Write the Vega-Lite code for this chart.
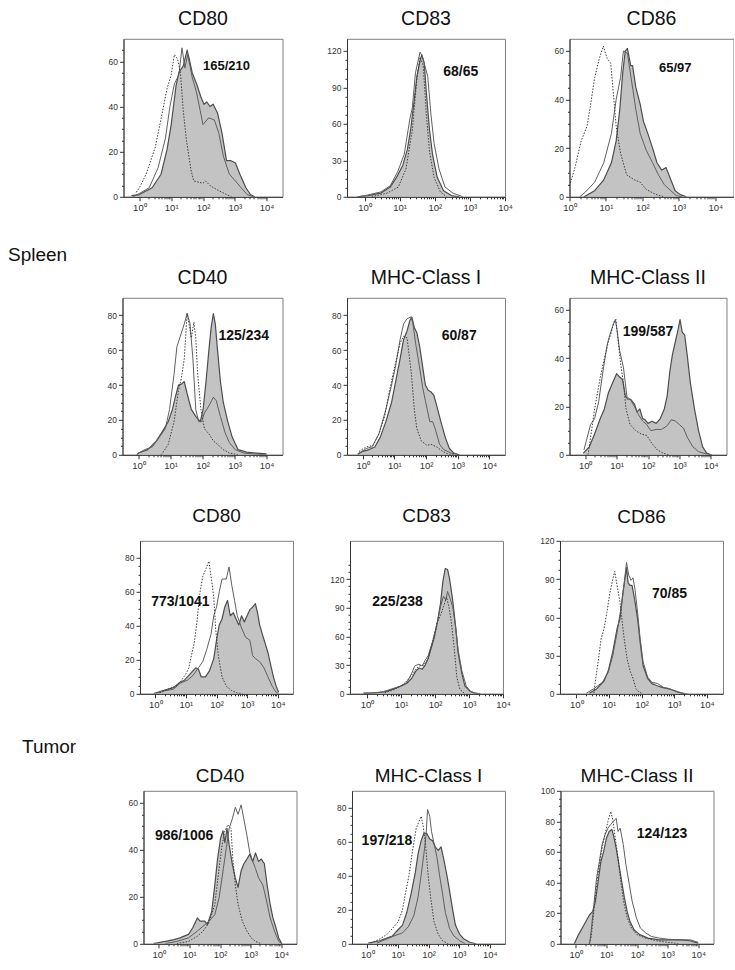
{
"$schema": "https://vega.github.io/schema/vega-lite/v6.json",
"padding": {"left": 8, "top": 7.8, "right": 0, "bottom": 0},
"background": "white",
"spacing": 0,
"datasets": {
"a_f": [{"e":-0.25,"y":0.5},{"e":0,"y":1},{"e":0.4,"y":4},{"e":0.68,"y":10},{"e":0.87,"y":21},{"e":1.0,"y":32},{"e":1.15,"y":49},{"e":1.24,"y":55},{"e":1.38,"y":58},{"e":1.5,"y":65},{"e":1.57,"y":61},{"e":1.66,"y":55},{"e":1.8,"y":50},{"e":1.94,"y":44},{"e":2.03,"y":41},{"e":2.12,"y":42},{"e":2.22,"y":40},{"e":2.32,"y":41},{"e":2.46,"y":37},{"e":2.6,"y":28},{"e":2.74,"y":16},{"e":2.88,"y":16},{"e":3.02,"y":15},{"e":3.16,"y":10},{"e":3.35,"y":4},{"e":3.49,"y":1},{"e":3.63,"y":0}],
"a_o": [{"e":-0.2,"y":0},{"e":0,"y":1.5},{"e":0.31,"y":4},{"e":0.59,"y":13},{"e":0.82,"y":26},{"e":0.96,"y":40},{"e":1.1,"y":50},{"e":1.24,"y":54},{"e":1.34,"y":66},{"e":1.43,"y":57},{"e":1.52,"y":63},{"e":1.66,"y":53},{"e":1.8,"y":46},{"e":2.0,"y":32},{"e":2.18,"y":35},{"e":2.36,"y":34},{"e":2.5,"y":28},{"e":2.64,"y":18},{"e":2.83,"y":10},{"e":3.02,"y":7},{"e":3.2,"y":4},{"e":3.39,"y":1},{"e":3.57,"y":0}],
"a_i": [{"e":-0.1,"y":2},{"e":0,"y":4},{"e":0.21,"y":10},{"e":0.5,"y":22},{"e":0.73,"y":38},{"e":0.87,"y":48},{"e":1.0,"y":54},{"e":1.1,"y":63},{"e":1.2,"y":61},{"e":1.29,"y":55},{"e":1.38,"y":38},{"e":1.48,"y":25},{"e":1.62,"y":12},{"e":1.71,"y":7},{"e":2.0,"y":6},{"e":2.08,"y":7},{"e":2.22,"y":5},{"e":2.46,"y":3},{"e":2.74,"y":1},{"e":2.9,"y":0}],
"b_f": [{"e":-0.2,"y":0},{"e":0.1,"y":1},{"e":0.46,"y":3},{"e":0.73,"y":8},{"e":0.91,"y":16},{"e":1.09,"y":26},{"e":1.22,"y":39},{"e":1.31,"y":55},{"e":1.4,"y":76},{"e":1.49,"y":99},{"e":1.58,"y":112},{"e":1.63,"y":117},{"e":1.7,"y":110},{"e":1.76,"y":86},{"e":1.85,"y":55},{"e":1.94,"y":34},{"e":2.07,"y":16},{"e":2.25,"y":5},{"e":2.47,"y":1},{"e":2.7,"y":0}],
"b_o": [{"e":-0.2,"y":0},{"e":0.02,"y":1},{"e":0.46,"y":4},{"e":0.73,"y":9},{"e":0.95,"y":21},{"e":1.13,"y":35},{"e":1.29,"y":64},{"e":1.36,"y":73},{"e":1.45,"y":102},{"e":1.58,"y":119},{"e":1.65,"y":115},{"e":1.8,"y":99},{"e":1.89,"y":68},{"e":1.98,"y":44},{"e":2.12,"y":23},{"e":2.29,"y":8},{"e":2.52,"y":3},{"e":2.8,"y":0}],
"b_i": [{"e":0.2,"y":0},{"e":0.64,"y":3},{"e":0.96,"y":8},{"e":1.18,"y":23},{"e":1.36,"y":55},{"e":1.49,"y":97},{"e":1.58,"y":115},{"e":1.67,"y":108},{"e":1.76,"y":68},{"e":1.85,"y":37},{"e":1.98,"y":16},{"e":2.16,"y":4},{"e":2.34,"y":0}],
"c_f": [{"e":0.4,"y":0},{"e":0.69,"y":2.5},{"e":0.94,"y":7},{"e":1.15,"y":14},{"e":1.28,"y":23},{"e":1.38,"y":36},{"e":1.46,"y":51},{"e":1.53,"y":60},{"e":1.59,"y":61},{"e":1.68,"y":54},{"e":1.73,"y":54},{"e":1.82,"y":45},{"e":1.94,"y":38},{"e":2.03,"y":31},{"e":2.15,"y":26},{"e":2.28,"y":20},{"e":2.4,"y":14},{"e":2.53,"y":11},{"e":2.65,"y":12},{"e":2.78,"y":7},{"e":2.9,"y":2.5},{"e":3.03,"y":1},{"e":3.2,"y":0}],
"c_o": [{"e":0.28,"y":0},{"e":0.44,"y":2},{"e":0.69,"y":6},{"e":0.94,"y":14},{"e":1.15,"y":26},{"e":1.28,"y":40},{"e":1.4,"y":49},{"e":1.48,"y":60},{"e":1.59,"y":59},{"e":1.69,"y":49},{"e":1.82,"y":36},{"e":1.94,"y":26},{"e":2.11,"y":19},{"e":2.28,"y":14},{"e":2.44,"y":9},{"e":2.6,"y":5},{"e":2.78,"y":2.5},{"e":2.94,"y":0.4},{"e":3.1,"y":0}],
"c_i": [{"e":0,"y":4.5},{"e":0.15,"y":12},{"e":0.32,"y":23},{"e":0.48,"y":29},{"e":0.57,"y":37},{"e":0.69,"y":49},{"e":0.82,"y":57},{"e":0.93,"y":62},{"e":1.03,"y":57},{"e":1.13,"y":55},{"e":1.19,"y":45},{"e":1.28,"y":29},{"e":1.4,"y":18},{"e":1.57,"y":9},{"e":1.78,"y":7},{"e":1.94,"y":6},{"e":2.11,"y":3},{"e":2.36,"y":1},{"e":2.6,"y":0}],
"d_f": [{"e":-0.05,"y":0},{"e":0,"y":1},{"e":0.29,"y":3},{"e":0.56,"y":8},{"e":0.75,"y":13.5},{"e":0.93,"y":19},{"e":1.06,"y":26},{"e":1.15,"y":33},{"e":1.25,"y":40},{"e":1.34,"y":40.5},{"e":1.43,"y":42},{"e":1.52,"y":35},{"e":1.65,"y":26},{"e":1.79,"y":22},{"e":1.93,"y":19},{"e":2.02,"y":26},{"e":2.11,"y":42},{"e":2.2,"y":60},{"e":2.27,"y":73},{"e":2.34,"y":81},{"e":2.4,"y":75},{"e":2.47,"y":60},{"e":2.56,"y":42},{"e":2.65,"y":30},{"e":2.79,"y":19},{"e":2.93,"y":10},{"e":3.11,"y":3},{"e":3.38,"y":1.5},{"e":3.7,"y":1},{"e":4.0,"y":0.5}],
"d_o": [{"e":-0.05,"y":0},{"e":0,"y":1},{"e":0.2,"y":3},{"e":0.43,"y":4.5},{"e":0.65,"y":10},{"e":0.84,"y":15},{"e":0.97,"y":26},{"e":1.11,"y":46},{"e":1.2,"y":62},{"e":1.29,"y":67},{"e":1.43,"y":75},{"e":1.52,"y":81},{"e":1.61,"y":75},{"e":1.7,"y":55},{"e":1.79,"y":26},{"e":1.88,"y":19},{"e":1.97,"y":19},{"e":2.06,"y":24},{"e":2.2,"y":28},{"e":2.34,"y":33},{"e":2.43,"y":31},{"e":2.56,"y":22},{"e":2.7,"y":13},{"e":2.84,"y":7},{"e":3.02,"y":3},{"e":3.29,"y":1},{"e":3.65,"y":0.4},{"e":4.0,"y":0}],
"d_i": [{"e":0.7,"y":0},{"e":0.75,"y":1},{"e":0.93,"y":6},{"e":1.11,"y":19},{"e":1.25,"y":37},{"e":1.34,"y":44},{"e":1.43,"y":55},{"e":1.52,"y":81},{"e":1.58,"y":75},{"e":1.65,"y":67},{"e":1.73,"y":76},{"e":1.79,"y":67},{"e":1.85,"y":46},{"e":1.95,"y":26},{"e":2.06,"y":15},{"e":2.2,"y":12},{"e":2.34,"y":8},{"e":2.47,"y":6},{"e":2.65,"y":3},{"e":2.84,"y":1},{"e":3.11,"y":0}],
"e_f": [{"e":-0.16,"y":0.4},{"e":0,"y":2},{"e":0.2,"y":3},{"e":0.38,"y":4.5},{"e":0.55,"y":10},{"e":0.73,"y":19},{"e":0.91,"y":30},{"e":1.04,"y":42},{"e":1.18,"y":55},{"e":1.29,"y":66},{"e":1.4,"y":71},{"e":1.49,"y":77},{"e":1.55,"y":79},{"e":1.63,"y":73},{"e":1.71,"y":70},{"e":1.8,"y":62},{"e":1.89,"y":51},{"e":1.98,"y":40},{"e":2.07,"y":37},{"e":2.16,"y":36},{"e":2.25,"y":34},{"e":2.34,"y":28},{"e":2.47,"y":19},{"e":2.61,"y":10},{"e":2.74,"y":3.6},{"e":2.88,"y":1},{"e":3.05,"y":0}],
"e_o": [{"e":-0.16,"y":0.4},{"e":0.11,"y":3.6},{"e":0.29,"y":4.5},{"e":0.51,"y":12},{"e":0.73,"y":26},{"e":0.91,"y":40},{"e":1.04,"y":51},{"e":1.18,"y":66},{"e":1.29,"y":75},{"e":1.4,"y":78},{"e":1.52,"y":79},{"e":1.58,"y":76},{"e":1.67,"y":64},{"e":1.79,"y":51},{"e":1.89,"y":39},{"e":1.98,"y":31},{"e":2.12,"y":19},{"e":2.21,"y":19},{"e":2.29,"y":15},{"e":2.43,"y":6},{"e":2.56,"y":3},{"e":2.79,"y":1},{"e":3.05,"y":0}],
"e_i": [{"e":-0.12,"y":2},{"e":0.11,"y":4.5},{"e":0.33,"y":5.4},{"e":0.51,"y":12},{"e":0.69,"y":22},{"e":0.87,"y":39},{"e":1.04,"y":53},{"e":1.18,"y":64},{"e":1.29,"y":68},{"e":1.4,"y":67},{"e":1.46,"y":58},{"e":1.54,"y":46},{"e":1.63,"y":26},{"e":1.71,"y":15},{"e":1.85,"y":8},{"e":2.03,"y":5.4},{"e":2.16,"y":6},{"e":2.34,"y":4.5},{"e":2.52,"y":2},{"e":2.7,"y":0.4},{"e":2.88,"y":0}],
"f_f": [{"e":-0.06,"y":0.7},{"e":0.13,"y":3.3},{"e":0.3,"y":8.6},{"e":0.48,"y":15},{"e":0.61,"y":19},{"e":0.74,"y":25.7},{"e":0.87,"y":29.7},{"e":1.0,"y":33.6},{"e":1.09,"y":32.3},{"e":1.19,"y":31},{"e":1.28,"y":24.4},{"e":1.35,"y":23},{"e":1.45,"y":23},{"e":1.57,"y":21},{"e":1.65,"y":17.8},{"e":1.74,"y":19},{"e":1.83,"y":15},{"e":1.91,"y":14.5},{"e":2.0,"y":13},{"e":2.13,"y":13.9},{"e":2.26,"y":13},{"e":2.39,"y":15},{"e":2.52,"y":19},{"e":2.61,"y":24.4},{"e":2.7,"y":35},{"e":2.78,"y":41.6},{"e":2.87,"y":46.8},{"e":2.96,"y":52},{"e":3.02,"y":56},{"e":3.09,"y":50.8},{"e":3.17,"y":49.5},{"e":3.26,"y":40},{"e":3.35,"y":29.7},{"e":3.48,"y":19},{"e":3.61,"y":10},{"e":3.74,"y":3.3},{"e":3.87,"y":0.7},{"e":4.0,"y":0}],
"f_o": [{"e":-0.04,"y":2},{"e":0.04,"y":6},{"e":0.17,"y":12.5},{"e":0.3,"y":15},{"e":0.43,"y":22},{"e":0.57,"y":35},{"e":0.7,"y":45.5},{"e":0.78,"y":49.5},{"e":0.87,"y":53},{"e":0.96,"y":56},{"e":1.02,"y":51},{"e":1.1,"y":43},{"e":1.22,"y":36},{"e":1.33,"y":24},{"e":1.43,"y":23},{"e":1.57,"y":20},{"e":1.7,"y":16.5},{"e":1.83,"y":14},{"e":1.96,"y":12.5},{"e":2.09,"y":10},{"e":2.26,"y":10.5},{"e":2.43,"y":10.5},{"e":2.61,"y":12},{"e":2.74,"y":14.5},{"e":2.87,"y":14},{"e":3.0,"y":12.5},{"e":3.13,"y":11},{"e":3.26,"y":7},{"e":3.43,"y":3.3},{"e":3.61,"y":1.3},{"e":3.87,"y":0.3},{"e":4.04,"y":0}],
"f_i": [{"e":0.09,"y":0},{"e":0.17,"y":7},{"e":0.3,"y":19},{"e":0.48,"y":32},{"e":0.61,"y":40},{"e":0.74,"y":47},{"e":0.84,"y":51},{"e":0.91,"y":55},{"e":0.98,"y":56},{"e":1.04,"y":48},{"e":1.13,"y":37.6},{"e":1.22,"y":29.7},{"e":1.3,"y":19},{"e":1.43,"y":12.5},{"e":1.61,"y":10},{"e":1.78,"y":8.6},{"e":1.96,"y":8},{"e":2.13,"y":4.6},{"e":2.3,"y":2},{"e":2.48,"y":0.7},{"e":2.65,"y":0}],
"g_f": [{"e":-0.05,"y":0.2},{"e":0.23,"y":1.8},{"e":0.59,"y":3.6},{"e":0.77,"y":6.3},{"e":0.95,"y":8},{"e":1.14,"y":11.7},{"e":1.32,"y":15.3},{"e":1.41,"y":14.4},{"e":1.5,"y":10},{"e":1.64,"y":10},{"e":1.77,"y":13.5},{"e":1.91,"y":20.7},{"e":2.0,"y":31.5},{"e":2.09,"y":40.5},{"e":2.18,"y":44},{"e":2.27,"y":51},{"e":2.36,"y":54.9},{"e":2.45,"y":45.9},{"e":2.55,"y":47.7},{"e":2.64,"y":44},{"e":2.73,"y":40.5},{"e":2.82,"y":45.9},{"e":2.91,"y":42.3},{"e":3.0,"y":45.9},{"e":3.09,"y":49.5},{"e":3.18,"y":51},{"e":3.27,"y":53},{"e":3.34,"y":47.7},{"e":3.41,"y":40.5},{"e":3.5,"y":35},{"e":3.59,"y":29.7},{"e":3.68,"y":24.3},{"e":3.77,"y":17},{"e":3.86,"y":10},{"e":3.95,"y":4.5},{"e":4.03,"y":0.9}],
"g_o": [{"e":0.05,"y":0.4},{"e":0.32,"y":1.8},{"e":0.59,"y":2.7},{"e":0.82,"y":6.3},{"e":1.05,"y":8},{"e":1.23,"y":10.8},{"e":1.41,"y":15.3},{"e":1.55,"y":18.9},{"e":1.68,"y":26},{"e":1.82,"y":35},{"e":1.91,"y":45.9},{"e":2.0,"y":51},{"e":2.09,"y":60},{"e":2.18,"y":67.5},{"e":2.32,"y":67.5},{"e":2.41,"y":74.6},{"e":2.5,"y":63.8},{"e":2.59,"y":54.9},{"e":2.68,"y":45.9},{"e":2.82,"y":38.7},{"e":2.95,"y":33.3},{"e":3.09,"y":31.5},{"e":3.18,"y":22.5},{"e":3.27,"y":20.7},{"e":3.41,"y":18.9},{"e":3.55,"y":15.3},{"e":3.68,"y":10},{"e":3.82,"y":4.5},{"e":3.95,"y":0.9},{"e":4.03,"y":0}],
"g_i": [{"e":0.14,"y":0.5},{"e":0.41,"y":2.7},{"e":0.68,"y":4.5},{"e":0.86,"y":8},{"e":1.0,"y":11.7},{"e":1.09,"y":15},{"e":1.18,"y":22.5},{"e":1.27,"y":29.7},{"e":1.36,"y":42},{"e":1.45,"y":58.5},{"e":1.55,"y":69},{"e":1.66,"y":73.7},{"e":1.75,"y":78},{"e":1.85,"y":65.5},{"e":1.91,"y":56.7},{"e":1.97,"y":38.7},{"e":2.06,"y":22.5},{"e":2.18,"y":10},{"e":2.32,"y":4.5},{"e":2.5,"y":1.8},{"e":2.68,"y":0.5},{"e":2.86,"y":0}],
"h_f": [{"e":-0.1,"y":0.6},{"e":0.27,"y":1},{"e":0.63,"y":3},{"e":0.81,"y":5.4},{"e":0.99,"y":8},{"e":1.17,"y":11},{"e":1.31,"y":16},{"e":1.44,"y":24},{"e":1.53,"y":27},{"e":1.62,"y":25.6},{"e":1.71,"y":30},{"e":1.8,"y":37},{"e":1.89,"y":48},{"e":1.98,"y":59},{"e":2.07,"y":75},{"e":2.16,"y":94},{"e":2.23,"y":117},{"e":2.3,"y":131},{"e":2.37,"y":130},{"e":2.43,"y":120},{"e":2.52,"y":98},{"e":2.61,"y":69},{"e":2.68,"y":43},{"e":2.79,"y":21},{"e":2.88,"y":8},{"e":3.02,"y":3},{"e":3.15,"y":1},{"e":3.33,"y":0}],
"h_o": [{"e":-0.1,"y":0.6},{"e":0.43,"y":1.6},{"e":0.7,"y":4.8},{"e":0.99,"y":8},{"e":1.17,"y":12},{"e":1.31,"y":21},{"e":1.4,"y":29},{"e":1.53,"y":31},{"e":1.62,"y":29},{"e":1.71,"y":35},{"e":1.8,"y":40},{"e":1.94,"y":56},{"e":2.07,"y":75},{"e":2.16,"y":91},{"e":2.25,"y":102},{"e":2.32,"y":98},{"e":2.37,"y":107},{"e":2.43,"y":101},{"e":2.52,"y":91},{"e":2.61,"y":69},{"e":2.68,"y":46},{"e":2.79,"y":24},{"e":2.92,"y":8},{"e":3.06,"y":2},{"e":3.24,"y":0}],
"h_i": [{"e":0.52,"y":1},{"e":0.81,"y":4.8},{"e":1.06,"y":9.6},{"e":1.24,"y":16},{"e":1.4,"y":24},{"e":1.53,"y":29},{"e":1.67,"y":30},{"e":1.8,"y":37},{"e":1.94,"y":56},{"e":2.07,"y":75},{"e":2.16,"y":82},{"e":2.25,"y":91},{"e":2.34,"y":101},{"e":2.41,"y":91},{"e":2.48,"y":75},{"e":2.57,"y":46},{"e":2.64,"y":18},{"e":2.73,"y":4.8},{"e":2.88,"y":0}],
"i_f": [{"e":0.4,"y":0.5},{"e":0.63,"y":4},{"e":0.85,"y":10},{"e":0.98,"y":18},{"e":1.12,"y":33},{"e":1.25,"y":51},{"e":1.34,"y":59},{"e":1.43,"y":79},{"e":1.49,"y":90},{"e":1.54,"y":99},{"e":1.59,"y":87},{"e":1.65,"y":85},{"e":1.71,"y":85},{"e":1.79,"y":74},{"e":1.88,"y":59},{"e":1.96,"y":40},{"e":2.05,"y":22},{"e":2.19,"y":12},{"e":2.32,"y":8},{"e":2.46,"y":6.5},{"e":2.63,"y":5},{"e":2.81,"y":4},{"e":2.95,"y":3},{"e":3.13,"y":1.3},{"e":3.3,"y":0}],
"i_o": [{"e":0.31,"y":0.5},{"e":0.54,"y":4},{"e":0.8,"y":9},{"e":0.98,"y":17},{"e":1.12,"y":30},{"e":1.25,"y":48},{"e":1.38,"y":69},{"e":1.47,"y":87},{"e":1.54,"y":103},{"e":1.61,"y":93},{"e":1.68,"y":89},{"e":1.74,"y":91},{"e":1.8,"y":82},{"e":1.88,"y":64},{"e":1.96,"y":43},{"e":2.05,"y":25},{"e":2.19,"y":13},{"e":2.32,"y":9},{"e":2.5,"y":8},{"e":2.68,"y":5},{"e":2.86,"y":4},{"e":2.99,"y":2.6},{"e":3.21,"y":0.8},{"e":3.4,"y":0}],
"i_i": [{"e":0.54,"y":0.5},{"e":0.58,"y":9},{"e":0.67,"y":25},{"e":0.76,"y":43},{"e":0.85,"y":51},{"e":0.94,"y":64},{"e":1.03,"y":79},{"e":1.12,"y":90},{"e":1.18,"y":96},{"e":1.25,"y":85},{"e":1.34,"y":72},{"e":1.41,"y":56},{"e":1.47,"y":43},{"e":1.56,"y":27},{"e":1.65,"y":18},{"e":1.74,"y":12},{"e":1.83,"y":4},{"e":1.92,"y":1.3},{"e":2.05,"y":0}],
"j_f": [{"e":-0.17,"y":0.1},{"e":0.21,"y":1},{"e":0.5,"y":1.8},{"e":0.69,"y":2.5},{"e":0.97,"y":4},{"e":1.11,"y":6.8},{"e":1.26,"y":11},{"e":1.35,"y":9.6},{"e":1.5,"y":9.6},{"e":1.59,"y":8.2},{"e":1.73,"y":13.8},{"e":1.83,"y":25},{"e":1.92,"y":36},{"e":2.02,"y":45},{"e":2.1,"y":48},{"e":2.16,"y":43},{"e":2.23,"y":49},{"e":2.3,"y":42},{"e":2.4,"y":34},{"e":2.5,"y":28},{"e":2.59,"y":24},{"e":2.69,"y":31},{"e":2.78,"y":34},{"e":2.88,"y":36},{"e":2.97,"y":38},{"e":3.07,"y":35},{"e":3.16,"y":38.6},{"e":3.26,"y":35},{"e":3.35,"y":36},{"e":3.45,"y":34},{"e":3.54,"y":25},{"e":3.64,"y":16.7},{"e":3.73,"y":11},{"e":3.83,"y":6.8},{"e":3.92,"y":2.5},{"e":4.02,"y":0}],
"j_o": [{"e":0.21,"y":0.1},{"e":0.59,"y":1},{"e":0.97,"y":2.5},{"e":1.26,"y":5.4},{"e":1.45,"y":7.5},{"e":1.64,"y":9.6},{"e":1.83,"y":12.4},{"e":1.97,"y":19.5},{"e":2.11,"y":32},{"e":2.21,"y":41},{"e":2.3,"y":49},{"e":2.4,"y":53},{"e":2.5,"y":58},{"e":2.59,"y":55},{"e":2.69,"y":59},{"e":2.78,"y":53},{"e":2.88,"y":46},{"e":2.97,"y":39},{"e":3.07,"y":35},{"e":3.16,"y":32},{"e":3.26,"y":28},{"e":3.4,"y":25},{"e":3.5,"y":19.5},{"e":3.64,"y":11},{"e":3.78,"y":5.4},{"e":3.92,"y":1},{"e":4.02,"y":0}],
"j_i": [{"e":0.59,"y":0.1},{"e":0.97,"y":1},{"e":1.26,"y":3.2},{"e":1.45,"y":5.4},{"e":1.64,"y":9},{"e":1.83,"y":16.7},{"e":1.97,"y":32},{"e":2.07,"y":42},{"e":2.16,"y":48},{"e":2.26,"y":50.6},{"e":2.36,"y":49},{"e":2.42,"y":36},{"e":2.5,"y":25},{"e":2.59,"y":16.7},{"e":2.73,"y":9.6},{"e":2.88,"y":5.4},{"e":3.02,"y":2.5},{"e":3.16,"y":1},{"e":3.35,"y":0}],
"k_f": [{"e":0.03,"y":0.4},{"e":0.4,"y":1.8},{"e":0.68,"y":3.7},{"e":0.82,"y":4.6},{"e":0.96,"y":7.4},{"e":1.15,"y":11},{"e":1.29,"y":18.4},{"e":1.43,"y":29.4},{"e":1.57,"y":42},{"e":1.66,"y":53},{"e":1.76,"y":60.7},{"e":1.85,"y":65},{"e":1.94,"y":65},{"e":2.04,"y":61.6},{"e":2.13,"y":60.7},{"e":2.22,"y":57},{"e":2.32,"y":55},{"e":2.41,"y":57},{"e":2.5,"y":49.6},{"e":2.6,"y":40.4},{"e":2.69,"y":31},{"e":2.79,"y":20},{"e":2.88,"y":11},{"e":3.02,"y":5.5},{"e":3.16,"y":2.8},{"e":3.35,"y":0.9},{"e":3.55,"y":0}],
"k_o": [{"e":0.31,"y":0.4},{"e":0.64,"y":2.8},{"e":0.87,"y":4.6},{"e":1.15,"y":6.4},{"e":1.34,"y":10},{"e":1.52,"y":16.5},{"e":1.66,"y":27.6},{"e":1.76,"y":40.4},{"e":1.85,"y":53},{"e":1.92,"y":64},{"e":1.97,"y":79},{"e":2.04,"y":75},{"e":2.1,"y":66},{"e":2.18,"y":59},{"e":2.27,"y":51.5},{"e":2.36,"y":40.4},{"e":2.46,"y":29.4},{"e":2.55,"y":18.4},{"e":2.69,"y":9},{"e":2.83,"y":4.6},{"e":3.02,"y":1.8},{"e":3.2,"y":0}],
"k_i": [{"e":0.12,"y":0.4},{"e":0.4,"y":2.8},{"e":0.64,"y":5.5},{"e":0.82,"y":9},{"e":1.01,"y":13},{"e":1.15,"y":20},{"e":1.24,"y":29},{"e":1.36,"y":40},{"e":1.48,"y":55},{"e":1.6,"y":68},{"e":1.69,"y":72},{"e":1.76,"y":75},{"e":1.82,"y":70},{"e":1.9,"y":59},{"e":1.99,"y":40},{"e":2.08,"y":26},{"e":2.18,"y":13},{"e":2.32,"y":5.5},{"e":2.46,"y":1.8},{"e":2.64,"y":0}],
"l_f": [{"e":-0.05,"y":0},{"e":0.09,"y":6},{"e":0.27,"y":12.4},{"e":0.45,"y":19},{"e":0.55,"y":21},{"e":0.64,"y":27.7},{"e":0.73,"y":40.7},{"e":0.82,"y":53.8},{"e":0.91,"y":60.3},{"e":1.0,"y":69},{"e":1.09,"y":73.4},{"e":1.18,"y":74.7},{"e":1.23,"y":71},{"e":1.32,"y":62.5},{"e":1.41,"y":51.6},{"e":1.5,"y":40.7},{"e":1.59,"y":29.8},{"e":1.68,"y":21},{"e":1.77,"y":14.6},{"e":1.91,"y":9},{"e":2.09,"y":6},{"e":2.36,"y":3.7},{"e":2.73,"y":2.6},{"e":3.09,"y":2.6},{"e":3.45,"y":2.6},{"e":3.73,"y":2},{"e":4.0,"y":0.4}],
"l_o": [{"e":0.45,"y":0},{"e":0.5,"y":8},{"e":0.59,"y":25.5},{"e":0.68,"y":43},{"e":0.77,"y":53.8},{"e":0.86,"y":65},{"e":0.95,"y":71},{"e":1.05,"y":75.6},{"e":1.14,"y":78},{"e":1.23,"y":80},{"e":1.32,"y":82},{"e":1.38,"y":73.4},{"e":1.45,"y":75.6},{"e":1.55,"y":65},{"e":1.64,"y":51.6},{"e":1.75,"y":38.6},{"e":1.84,"y":28},{"e":1.98,"y":17},{"e":2.11,"y":10.3},{"e":2.29,"y":7},{"e":2.47,"y":4.8},{"e":2.73,"y":3.7},{"e":3.0,"y":3},{"e":3.36,"y":2.6},{"e":3.73,"y":2.6},{"e":4.0,"y":1}],
"l_i": [{"e":0.44,"y":0},{"e":0.5,"y":4},{"e":0.59,"y":21},{"e":0.68,"y":38.6},{"e":0.77,"y":51.6},{"e":0.86,"y":62.5},{"e":0.95,"y":71},{"e":1.05,"y":80},{"e":1.14,"y":86.5},{"e":1.21,"y":81},{"e":1.29,"y":69},{"e":1.38,"y":56},{"e":1.47,"y":41},{"e":1.56,"y":28},{"e":1.68,"y":17},{"e":1.82,"y":10.3},{"e":2.0,"y":6},{"e":2.27,"y":3.7},{"e":2.64,"y":2},{"e":3.0,"y":1},{"e":3.36,"y":0}]
},
"vconcat": [
{"hconcat": [
 {"width": 50.2, "height": 206.5, "view": {"stroke": null}, "data": {"values": []}, "mark": {"type": "text"}, "encoding": {}},
 {"width": 159, "height": 158, "title": {"text": "CD80", "offset": 9.5}, "resolve": {"axis": {"x": "independent", "y": "independent"}},
  "layer": [
   {"encoding": {"x": {"field": "e", "type": "quantitative", "scale": {"domain": [-0.36, 4.09]}, "axis": {"title": null, "values": [0,0.301,0.477,0.602,0.699,0.778,0.845,0.903,0.954,1,1.301,1.477,1.602,1.699,1.778,1.845,1.903,1.954,2,2.301,2.477,2.602,2.699,2.778,2.845,2.903,2.954,3,3.301,3.477,3.602,3.699,3.778,3.845,3.903,3.954,4], "labelExpr": "datum.value % 1 === 0 ? '10' + ['⁰','¹','²','³','⁴'][datum.value] : ''", "tickSize": {"condition": {"test": "datum.value % 1 === 0", "value": 4}, "value": 2}, "labelOverlap": false, "labelFlush": false}},
     "y": {"field": "y", "type": "quantitative", "scale": {"domain": [0, 70]}, "axis": {"title": null, "values": [0,5,10,15,20,25,30,35,40,45,50,55,60,65], "labelExpr": "datum.value % 20 === 0 ? datum.label : ''", "tickSize": {"condition": {"test": "datum.value % 20 === 0", "value": 4}, "value": 2}, "labelOverlap": false, "labelFlush": false}}},
    "layer": [
     {"data": {"name": "a_f"}, "mark": {"type": "area", "color": "#a9a9a9", "clip": true, "line": {"color": "#4d4d4d", "strokeWidth": 1.2}}},
     {"data": {"name": "a_o"}, "mark": {"type": "line", "color": "#5e5e5e", "strokeWidth": 1, "clip": true}},
     {"data": {"name": "a_i"}, "mark": {"type": "line", "color": "#3c3c3c", "strokeWidth": 1, "strokeDash": [1.5, 1.5], "clip": true}}
    ]},
   {"data": {"values": [{"label": "165/210"}]}, "mark": {"type": "text", "fontWeight": "bold", "fontSize": 13, "color": "#111"}, "encoding": {"x": {"datum": 2.74, "axis": null}, "y": {"datum": 58, "axis": null}, "text": {"field": "label"}}}
  ]},
 {"width": 158, "height": 158, "title": {"text": "CD83", "offset": 9.5}, "resolve": {"axis": {"x": "independent", "y": "independent"}},
  "layer": [
   {"encoding": {"x": {"field": "e", "type": "quantitative", "scale": {"domain": [-0.25, 4.0]}, "axis": {"title": null, "values": [0,0.301,0.477,0.602,0.699,0.778,0.845,0.903,0.954,1,1.301,1.477,1.602,1.699,1.778,1.845,1.903,1.954,2,2.301,2.477,2.602,2.699,2.778,2.845,2.903,2.954,3,3.301,3.477,3.602,3.699,3.778,3.845,3.903,3.954,4], "labelExpr": "datum.value % 1 === 0 ? '10' + ['⁰','¹','²','³','⁴'][datum.value] : ''", "tickSize": {"condition": {"test": "datum.value % 1 === 0", "value": 4}, "value": 2}, "labelOverlap": false, "labelFlush": false}},
     "y": {"field": "y", "type": "quantitative", "scale": {"domain": [0, 124]}, "axis": {"title": null, "values": [0,7.5,15,22.5,30,37.5,45,52.5,60,67.5,75,82.5,90,97.5,105,112.5,120], "labelExpr": "datum.value % 30 === 0 ? datum.label : ''", "tickSize": {"condition": {"test": "datum.value % 30 === 0", "value": 4}, "value": 2}, "labelOverlap": false, "labelFlush": false}}},
    "layer": [
     {"data": {"name": "b_f"}, "mark": {"type": "area", "color": "#a9a9a9", "clip": true, "line": {"color": "#4d4d4d", "strokeWidth": 1.2}}},
     {"data": {"name": "b_o"}, "mark": {"type": "line", "color": "#5e5e5e", "strokeWidth": 1, "clip": true}},
     {"data": {"name": "b_i"}, "mark": {"type": "line", "color": "#3c3c3c", "strokeWidth": 1, "strokeDash": [1.5, 1.5], "clip": true}}
    ]},
   {"data": {"values": [{"label": "68/65"}]}, "mark": {"type": "text", "fontWeight": "bold", "fontSize": 14, "color": "#111"}, "encoding": {"x": {"datum": 2.74, "axis": null}, "y": {"datum": 103, "axis": null}, "text": {"field": "label"}}}
  ]},
 {"width": 164, "height": 158, "title": {"text": "CD86", "offset": 9.5}, "resolve": {"axis": {"x": "independent", "y": "independent"}},
  "layer": [
   {"encoding": {"x": {"field": "e", "type": "quantitative", "scale": {"domain": [0, 4.09]}, "axis": {"title": null, "values": [0,0.301,0.477,0.602,0.699,0.778,0.845,0.903,0.954,1,1.301,1.477,1.602,1.699,1.778,1.845,1.903,1.954,2,2.301,2.477,2.602,2.699,2.778,2.845,2.903,2.954,3,3.301,3.477,3.602,3.699,3.778,3.845,3.903,3.954,4], "labelExpr": "datum.value % 1 === 0 ? '10' + ['⁰','¹','²','³','⁴'][datum.value] : ''", "tickSize": {"condition": {"test": "datum.value % 1 === 0", "value": 4}, "value": 2}, "labelOverlap": false, "labelFlush": false}},
     "y": {"field": "y", "type": "quantitative", "scale": {"domain": [0, 65]}, "axis": {"title": null, "values": [0,5,10,15,20,25,30,35,40,45,50,55,60], "labelExpr": "datum.value % 20 === 0 ? datum.label : ''", "tickSize": {"condition": {"test": "datum.value % 20 === 0", "value": 4}, "value": 2}, "labelOverlap": false, "labelFlush": false}}},
    "layer": [
     {"data": {"name": "c_f"}, "mark": {"type": "area", "color": "#a9a9a9", "clip": true, "line": {"color": "#4d4d4d", "strokeWidth": 1.2}}},
     {"data": {"name": "c_o"}, "mark": {"type": "line", "color": "#5e5e5e", "strokeWidth": 1, "clip": true}},
     {"data": {"name": "c_i"}, "mark": {"type": "line", "color": "#3c3c3c", "strokeWidth": 1, "strokeDash": [1.5, 1.5], "clip": true}}
    ]},
   {"data": {"values": [{"label": "65/97"}]}, "mark": {"type": "text", "fontWeight": "bold", "fontSize": 13, "color": "#111"}, "encoding": {"x": {"datum": 2.9, "axis": null}, "y": {"datum": 53, "axis": null}, "text": {"field": "label"}}}
  ]}
], "spacing": 64.5, "bounds": "flush"},
{"hconcat": [
 {"width": 49.2, "height": 208.2, "view": {"stroke": null}, "data": {"values": []}, "mark": {"type": "text"}, "encoding": {}, "title": {"text": "Spleen", "anchor": "start", "offset": 32.8, "fontSize": 19}},
 {"width": 160, "height": 157, "title": {"text": "CD40", "offset": 9.5}, "resolve": {"axis": {"x": "independent", "y": "independent"}},
  "layer": [
   {"encoding": {"x": {"field": "e", "type": "quantitative", "scale": {"domain": [-0.3, 4.06]}, "axis": {"title": null, "values": [0,0.301,0.477,0.602,0.699,0.778,0.845,0.903,0.954,1,1.301,1.477,1.602,1.699,1.778,1.845,1.903,1.954,2,2.301,2.477,2.602,2.699,2.778,2.845,2.903,2.954,3,3.301,3.477,3.602,3.699,3.778,3.845,3.903,3.954,4], "labelExpr": "datum.value % 1 === 0 ? '10' + ['⁰','¹','²','³','⁴'][datum.value] : ''", "tickSize": {"condition": {"test": "datum.value % 1 === 0", "value": 4}, "value": 2}, "labelOverlap": false, "labelFlush": false}},
     "y": {"field": "y", "type": "quantitative", "scale": {"domain": [0, 85]}, "axis": {"title": null, "values": [0,5,10,15,20,25,30,35,40,45,50,55,60,65,70,75,80], "labelExpr": "datum.value % 20 === 0 ? datum.label : ''", "tickSize": {"condition": {"test": "datum.value % 20 === 0", "value": 4}, "value": 2}, "labelOverlap": false, "labelFlush": false}}},
    "layer": [
     {"data": {"name": "d_f"}, "mark": {"type": "area", "color": "#a9a9a9", "clip": true, "line": {"color": "#4d4d4d", "strokeWidth": 1.2}}},
     {"data": {"name": "d_o"}, "mark": {"type": "line", "color": "#5e5e5e", "strokeWidth": 1, "clip": true}},
     {"data": {"name": "d_i"}, "mark": {"type": "line", "color": "#3c3c3c", "strokeWidth": 1, "strokeDash": [1.5, 1.5], "clip": true}}
    ]},
   {"data": {"values": [{"label": "125/234"}]}, "mark": {"type": "text", "fontWeight": "bold", "fontSize": 14, "color": "#111"}, "encoding": {"x": {"datum": 3.29, "axis": null}, "y": {"datum": 68, "axis": null}, "text": {"field": "label"}}}
  ]},
 {"width": 158, "height": 157, "title": {"text": "MHC-Class I", "offset": 9.5}, "resolve": {"axis": {"x": "independent", "y": "independent"}},
  "layer": [
   {"encoding": {"x": {"field": "e", "type": "quantitative", "scale": {"domain": [-0.16, 4.08]}, "axis": {"title": null, "values": [0,0.301,0.477,0.602,0.699,0.778,0.845,0.903,0.954,1,1.301,1.477,1.602,1.699,1.778,1.845,1.903,1.954,2,2.301,2.477,2.602,2.699,2.778,2.845,2.903,2.954,3,3.301,3.477,3.602,3.699,3.778,3.845,3.903,3.954,4], "labelExpr": "datum.value % 1 === 0 ? '10' + ['⁰','¹','²','³','⁴'][datum.value] : ''", "tickSize": {"condition": {"test": "datum.value % 1 === 0", "value": 4}, "value": 2}, "labelOverlap": false, "labelFlush": false}},
     "y": {"field": "y", "type": "quantitative", "scale": {"domain": [0, 85]}, "axis": {"title": null, "values": [0,5,10,15,20,25,30,35,40,45,50,55,60,65,70,75,80], "labelExpr": "datum.value % 20 === 0 ? datum.label : ''", "tickSize": {"condition": {"test": "datum.value % 20 === 0", "value": 4}, "value": 2}, "labelOverlap": false, "labelFlush": false}}},
    "layer": [
     {"data": {"name": "e_f"}, "mark": {"type": "area", "color": "#a9a9a9", "clip": true, "line": {"color": "#4d4d4d", "strokeWidth": 1.2}}},
     {"data": {"name": "e_o"}, "mark": {"type": "line", "color": "#5e5e5e", "strokeWidth": 1, "clip": true}},
     {"data": {"name": "e_i"}, "mark": {"type": "line", "color": "#3c3c3c", "strokeWidth": 1, "strokeDash": [1.5, 1.5], "clip": true}}
    ]},
   {"data": {"values": [{"label": "60/87"}]}, "mark": {"type": "text", "fontWeight": "bold", "fontSize": 14, "color": "#111"}, "encoding": {"x": {"datum": 3.05, "axis": null}, "y": {"datum": 68, "axis": null}, "text": {"field": "label"}}}
  ]},
 {"width": 157, "height": 157, "title": {"text": "MHC-Class II", "offset": 9.5}, "resolve": {"axis": {"x": "independent", "y": "independent"}},
  "layer": [
   {"encoding": {"x": {"field": "e", "type": "quantitative", "scale": {"domain": [-0.06, 4.04]}, "axis": {"title": null, "values": [0,0.301,0.477,0.602,0.699,0.778,0.845,0.903,0.954,1,1.301,1.477,1.602,1.699,1.778,1.845,1.903,1.954,2,2.301,2.477,2.602,2.699,2.778,2.845,2.903,2.954,3,3.301,3.477,3.602,3.699,3.778,3.845,3.903,3.954,4], "labelExpr": "datum.value % 1 === 0 ? '10' + ['⁰','¹','²','³','⁴'][datum.value] : ''", "tickSize": {"condition": {"test": "datum.value % 1 === 0", "value": 4}, "value": 2}, "labelOverlap": false, "labelFlush": false}},
     "y": {"field": "y", "type": "quantitative", "scale": {"domain": [0, 62]}, "axis": {"title": null, "values": [0,5,10,15,20,25,30,35,40,45,50,55,60], "labelExpr": "datum.value % 20 === 0 ? datum.label : ''", "tickSize": {"condition": {"test": "datum.value % 20 === 0", "value": 4}, "value": 2}, "labelOverlap": false, "labelFlush": false}}},
    "layer": [
     {"data": {"name": "f_f"}, "mark": {"type": "area", "color": "#a9a9a9", "clip": true, "line": {"color": "#4d4d4d", "strokeWidth": 1.2}}},
     {"data": {"name": "f_o"}, "mark": {"type": "line", "color": "#5e5e5e", "strokeWidth": 1, "clip": true}},
     {"data": {"name": "f_i"}, "mark": {"type": "line", "color": "#3c3c3c", "strokeWidth": 1, "strokeDash": [1.5, 1.5], "clip": true}}
    ]},
   {"data": {"values": [{"label": "199/587"}]}, "mark": {"type": "text", "fontWeight": "bold", "fontSize": 14, "color": "#111"}, "encoding": {"x": {"datum": 2.0, "axis": null}, "y": {"datum": 50.8, "axis": null}, "text": {"field": "label"}}}
  ]}
], "spacing": 64.5, "bounds": "flush"},
{"hconcat": [
 {"width": 74.3, "height": 196.4, "view": {"stroke": null}, "data": {"values": []}, "mark": {"type": "text"}, "encoding": {}},
 {"width": 153, "height": 153, "title": {"text": "CD80", "offset": 14.5, "fontSize": 19}, "resolve": {"axis": {"x": "independent", "y": "independent"}},
  "layer": [
   {"encoding": {"x": {"field": "e", "type": "quantitative", "scale": {"domain": [-0.15, 4.03]}, "axis": {"title": null, "values": [0,0.301,0.477,0.602,0.699,0.778,0.845,0.903,0.954,1,1.301,1.477,1.602,1.699,1.778,1.845,1.903,1.954,2,2.301,2.477,2.602,2.699,2.778,2.845,2.903,2.954,3,3.301,3.477,3.602,3.699,3.778,3.845,3.903,3.954,4], "labelExpr": "datum.value % 1 === 0 ? '10' + ['⁰','¹','²','³','⁴'][datum.value] : ''", "tickSize": {"condition": {"test": "datum.value % 1 === 0", "value": 4}, "value": 2}, "labelOverlap": false, "labelFlush": false}},
     "y": {"field": "y", "type": "quantitative", "scale": {"domain": [0, 83]}, "axis": {"title": null, "values": [0,5,10,15,20,25,30,35,40,45,50,55,60,65,70,75,80], "labelExpr": "datum.value % 20 === 0 ? datum.label : ''", "tickSize": {"condition": {"test": "datum.value % 20 === 0", "value": 4}, "value": 2}, "labelOverlap": false, "labelFlush": false}}},
    "layer": [
     {"data": {"name": "g_f"}, "mark": {"type": "area", "color": "#a9a9a9", "clip": true, "line": {"color": "#4d4d4d", "strokeWidth": 1.2}}},
     {"data": {"name": "g_o"}, "mark": {"type": "line", "color": "#5e5e5e", "strokeWidth": 1, "clip": true}},
     {"data": {"name": "g_i"}, "mark": {"type": "line", "color": "#3c3c3c", "strokeWidth": 1, "strokeDash": [1.5, 1.5], "clip": true}}
    ]},
   {"data": {"values": [{"label": "773/1041"}]}, "mark": {"type": "text", "fontWeight": "bold", "fontSize": 14, "color": "#111"}, "encoding": {"x": {"datum": 0.82, "axis": null}, "y": {"datum": 54, "axis": null}, "text": {"field": "label"}}}
  ]},
 {"width": 153, "height": 153, "title": {"text": "CD83", "offset": 14.5, "fontSize": 19}, "resolve": {"axis": {"x": "independent", "y": "independent"}},
  "layer": [
   {"encoding": {"x": {"field": "e", "type": "quantitative", "scale": {"domain": [-0.14, 4.0]}, "axis": {"title": null, "values": [0,0.301,0.477,0.602,0.699,0.778,0.845,0.903,0.954,1,1.301,1.477,1.602,1.699,1.778,1.845,1.903,1.954,2,2.301,2.477,2.602,2.699,2.778,2.845,2.903,2.954,3,3.301,3.477,3.602,3.699,3.778,3.845,3.903,3.954,4], "labelExpr": "datum.value % 1 === 0 ? '10' + ['⁰','¹','²','³','⁴'][datum.value] : ''", "tickSize": {"condition": {"test": "datum.value % 1 === 0", "value": 4}, "value": 2}, "labelOverlap": false, "labelFlush": false}},
     "y": {"field": "y", "type": "quantitative", "scale": {"domain": [0, 147]}, "axis": {"title": null, "values": [0,7.5,15,22.5,30,37.5,45,52.5,60,67.5,75,82.5,90,97.5,105,112.5,120,127.5,135], "labelExpr": "datum.value % 30 === 0 ? datum.label : ''", "tickSize": {"condition": {"test": "datum.value % 30 === 0", "value": 4}, "value": 2}, "labelOverlap": false, "labelFlush": false}}},
    "layer": [
     {"data": {"name": "h_f"}, "mark": {"type": "area", "color": "#a9a9a9", "clip": true, "line": {"color": "#4d4d4d", "strokeWidth": 1.2}}},
     {"data": {"name": "h_o"}, "mark": {"type": "line", "color": "#5e5e5e", "strokeWidth": 1, "clip": true}},
     {"data": {"name": "h_i"}, "mark": {"type": "line", "color": "#3c3c3c", "strokeWidth": 1, "strokeDash": [1.5, 1.5], "clip": true}}
    ]},
   {"data": {"values": [{"label": "225/238"}]}, "mark": {"type": "text", "fontWeight": "bold", "fontSize": 14, "color": "#111"}, "encoding": {"x": {"datum": 0.9, "axis": null}, "y": {"datum": 96, "axis": null}, "text": {"field": "label"}}}
  ]},
 {"width": 163, "height": 153, "title": {"text": "CD86", "offset": 10, "fontSize": 19}, "resolve": {"axis": {"x": "independent", "y": "independent"}},
  "layer": [
   {"encoding": {"x": {"field": "e", "type": "quantitative", "scale": {"domain": [-0.09, 4.29]}, "axis": {"title": null, "values": [0,0.301,0.477,0.602,0.699,0.778,0.845,0.903,0.954,1,1.301,1.477,1.602,1.699,1.778,1.845,1.903,1.954,2,2.301,2.477,2.602,2.699,2.778,2.845,2.903,2.954,3,3.301,3.477,3.602,3.699,3.778,3.845,3.903,3.954,4], "labelExpr": "datum.value % 1 === 0 ? '10' + ['⁰','¹','²','³','⁴'][datum.value] : ''", "tickSize": {"condition": {"test": "datum.value % 1 === 0", "value": 4}, "value": 2}, "labelOverlap": false, "labelFlush": false}},
     "y": {"field": "y", "type": "quantitative", "scale": {"domain": [0, 120]}, "axis": {"title": null, "values": [0,7.5,15,22.5,30,37.5,45,52.5,60,67.5,75,82.5,90,97.5,105,112.5,120], "labelExpr": "datum.value % 30 === 0 ? datum.label : ''", "tickSize": {"condition": {"test": "datum.value % 30 === 0", "value": 4}, "value": 2}, "labelOverlap": false, "labelFlush": false}}},
    "layer": [
     {"data": {"name": "i_f"}, "mark": {"type": "area", "color": "#a9a9a9", "clip": true, "line": {"color": "#4d4d4d", "strokeWidth": 1.2}}},
     {"data": {"name": "i_o"}, "mark": {"type": "line", "color": "#5e5e5e", "strokeWidth": 1, "clip": true}},
     {"data": {"name": "i_i"}, "mark": {"type": "line", "color": "#3c3c3c", "strokeWidth": 1, "strokeDash": [1.5, 1.5], "clip": true}}
    ]},
   {"data": {"values": [{"label": "70/85"}]}, "mark": {"type": "text", "fontWeight": "bold", "fontSize": 14, "color": "#111"}, "encoding": {"x": {"datum": 2.86, "axis": null}, "y": {"datum": 78, "axis": null}, "text": {"field": "label"}}}
  ]}
], "spacing": 57, "bounds": "flush"},
{"hconcat": [
 {"width": 79.2, "height": 153, "view": {"stroke": null}, "data": {"values": []}, "mark": {"type": "text"}, "encoding": {}, "title": {"text": "Tumor", "anchor": "start", "offset": 33.9, "dx": 14, "fontSize": 19}},
 {"width": 153, "height": 153, "title": {"text": "CD40", "offset": 5, "fontSize": 19}, "resolve": {"axis": {"x": "independent", "y": "independent"}},
  "layer": [
   {"encoding": {"x": {"field": "e", "type": "quantitative", "scale": {"domain": [-0.29, 4.1]}, "axis": {"title": null, "values": [0,0.301,0.477,0.602,0.699,0.778,0.845,0.903,0.954,1,1.301,1.477,1.602,1.699,1.778,1.845,1.903,1.954,2,2.301,2.477,2.602,2.699,2.778,2.845,2.903,2.954,3,3.301,3.477,3.602,3.699,3.778,3.845,3.903,3.954,4], "labelExpr": "datum.value % 1 === 0 ? '10' + ['⁰','¹','²','³','⁴'][datum.value] : ''", "tickSize": {"condition": {"test": "datum.value % 1 === 0", "value": 4}, "value": 2}, "labelOverlap": false, "labelFlush": false}},
     "y": {"field": "y", "type": "quantitative", "scale": {"domain": [0, 65]}, "axis": {"title": null, "values": [0,5,10,15,20,25,30,35,40,45,50,55,60], "labelExpr": "datum.value % 20 === 0 ? datum.label : ''", "tickSize": {"condition": {"test": "datum.value % 20 === 0", "value": 4}, "value": 2}, "labelOverlap": false, "labelFlush": false}}},
    "layer": [
     {"data": {"name": "j_f"}, "mark": {"type": "area", "color": "#a9a9a9", "clip": true, "line": {"color": "#4d4d4d", "strokeWidth": 1.2}}},
     {"data": {"name": "j_o"}, "mark": {"type": "line", "color": "#5e5e5e", "strokeWidth": 1, "clip": true}},
     {"data": {"name": "j_i"}, "mark": {"type": "line", "color": "#3c3c3c", "strokeWidth": 1, "strokeDash": [1.5, 1.5], "clip": true}}
    ]},
   {"data": {"values": [{"label": "986/1006"}]}, "mark": {"type": "text", "fontWeight": "bold", "fontSize": 14, "color": "#111"}, "encoding": {"x": {"datum": 0.83, "axis": null}, "y": {"datum": 45.6, "axis": null}, "text": {"field": "label"}}}
  ]},
 {"width": 153, "height": 153, "title": {"text": "MHC-Class I", "offset": 5, "fontSize": 19}, "resolve": {"axis": {"x": "independent", "y": "independent"}},
  "layer": [
   {"encoding": {"x": {"field": "e", "type": "quantitative", "scale": {"domain": [-0.2, 4.09]}, "axis": {"title": null, "values": [0,0.301,0.477,0.602,0.699,0.778,0.845,0.903,0.954,1,1.301,1.477,1.602,1.699,1.778,1.845,1.903,1.954,2,2.301,2.477,2.602,2.699,2.778,2.845,2.903,2.954,3,3.301,3.477,3.602,3.699,3.778,3.845,3.903,3.954,4], "labelExpr": "datum.value % 1 === 0 ? '10' + ['⁰','¹','²','³','⁴'][datum.value] : ''", "tickSize": {"condition": {"test": "datum.value % 1 === 0", "value": 4}, "value": 2}, "labelOverlap": false, "labelFlush": false}},
     "y": {"field": "y", "type": "quantitative", "scale": {"domain": [0, 85]}, "axis": {"title": null, "values": [0,5,10,15,20,25,30,35,40,45,50,55,60,65,70,75,80], "labelExpr": "datum.value % 20 === 0 ? datum.label : ''", "tickSize": {"condition": {"test": "datum.value % 20 === 0", "value": 4}, "value": 2}, "labelOverlap": false, "labelFlush": false}}},
    "layer": [
     {"data": {"name": "k_f"}, "mark": {"type": "area", "color": "#a9a9a9", "clip": true, "line": {"color": "#4d4d4d", "strokeWidth": 1.2}}},
     {"data": {"name": "k_o"}, "mark": {"type": "line", "color": "#5e5e5e", "strokeWidth": 1, "clip": true}},
     {"data": {"name": "k_i"}, "mark": {"type": "line", "color": "#3c3c3c", "strokeWidth": 1, "strokeDash": [1.5, 1.5], "clip": true}}
    ]},
   {"data": {"values": [{"label": "197/218"}]}, "mark": {"type": "text", "fontWeight": "bold", "fontSize": 14, "color": "#111"}, "encoding": {"x": {"datum": 0.64, "axis": null}, "y": {"datum": 60.7, "axis": null}, "text": {"field": "label"}}}
  ]},
 {"width": 153, "height": 153, "title": {"text": "MHC-Class II", "offset": 0.5, "fontSize": 19}, "resolve": {"axis": {"x": "independent", "y": "independent"}},
  "layer": [
   {"encoding": {"x": {"field": "e", "type": "quantitative", "scale": {"domain": [-0.09, 4.09]}, "axis": {"title": null, "values": [0,0.301,0.477,0.602,0.699,0.778,0.845,0.903,0.954,1,1.301,1.477,1.602,1.699,1.778,1.845,1.903,1.954,2,2.301,2.477,2.602,2.699,2.778,2.845,2.903,2.954,3,3.301,3.477,3.602,3.699,3.778,3.845,3.903,3.954,4], "labelExpr": "datum.value % 1 === 0 ? '10' + ['⁰','¹','²','³','⁴'][datum.value] : ''", "tickSize": {"condition": {"test": "datum.value % 1 === 0", "value": 4}, "value": 2}, "labelOverlap": false, "labelFlush": false}},
     "y": {"field": "y", "type": "quantitative", "scale": {"domain": [0, 100]}, "axis": {"title": null, "values": [0,5,10,15,20,25,30,35,40,45,50,55,60,65,70,75,80,85,90,95,100], "labelExpr": "datum.value % 20 === 0 ? datum.label : ''", "tickSize": {"condition": {"test": "datum.value % 20 === 0", "value": 4}, "value": 2}, "labelOverlap": false, "labelFlush": false}}},
    "layer": [
     {"data": {"name": "l_f"}, "mark": {"type": "area", "color": "#a9a9a9", "clip": true, "line": {"color": "#4d4d4d", "strokeWidth": 1.2}}},
     {"data": {"name": "l_o"}, "mark": {"type": "line", "color": "#5e5e5e", "strokeWidth": 1, "clip": true}},
     {"data": {"name": "l_i"}, "mark": {"type": "line", "color": "#3c3c3c", "strokeWidth": 1, "strokeDash": [1.5, 1.5], "clip": true}}
    ]},
   {"data": {"values": [{"label": "124/123"}]}, "mark": {"type": "text", "fontWeight": "bold", "fontSize": 14, "color": "#111"}, "encoding": {"x": {"datum": 2.82, "axis": null}, "y": {"datum": 72, "axis": null}, "text": {"field": "label"}}}
  ]}
], "spacing": 55.5, "bounds": "flush"}
],
"config": {
 "font": "Liberation Sans",
 "view": {"stroke": "#7f7f7f", "strokeWidth": 1},
 "title": {"fontSize": 19.5, "fontWeight": "normal", "color": "#111", "baseline": "alphabetic", "frame": "group", "font": "Liberation Sans"},
 "axis": {"grid": false, "domainColor": "#333", "tickColor": "#333", "labelColor": "#333", "labelFontSize": 8.5, "labelFont": "Liberation Sans", "domainWidth": 1, "tickWidth": 1, "labelPadding": 2, "labelOverlap": false},
 "axisX": {"labelFontSize": 9.5},
 "axisY": {"minExtent": 18, "maxExtent": 18},
 "line": {"strokeJoin": "round"}
}
}
